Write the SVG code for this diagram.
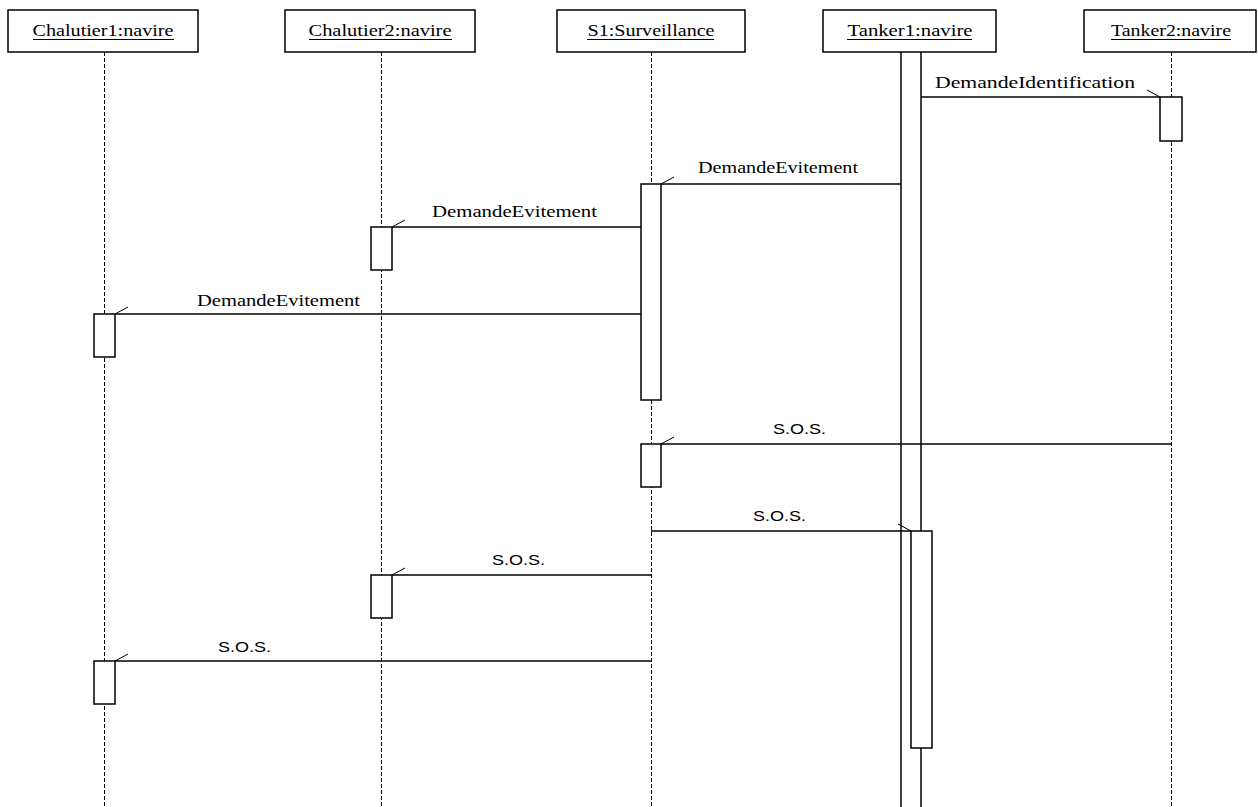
<svg xmlns="http://www.w3.org/2000/svg" width="1258" height="807" viewBox="0 0 1258 807">
<style>
.hdr{fill:#fff;stroke:#000;stroke-width:1.5}
.hl{font-family:"Liberation Serif","Times New Roman",serif;font-size:16px;fill:#000;text-anchor:middle}
.ul{stroke:#000;stroke-width:1}
.life{stroke:#000;stroke-width:1;stroke-dasharray:4,2;fill:none}
.solid{stroke:#000;stroke-width:1.5;fill:none}
.act{fill:#fff;stroke:#000;stroke-width:1.5}
.msg{stroke:#000;stroke-width:1.5;fill:none}
.barb{stroke:#000;stroke-width:1;fill:none}
.ml{font-family:"Liberation Serif","Times New Roman",serif;font-size:16px;fill:#000}
.sl{font-family:"Liberation Sans",Arial,sans-serif;font-size:15px;fill:#000}
</style>
<rect width="1258" height="807" fill="#fff"/>

<g id="lifelines">
<line class="life" x1="104.5" y1="52" x2="104.5" y2="807"/>
<line class="life" x1="381.5" y1="52" x2="381.5" y2="807"/>
<line class="life" x1="651.5" y1="52" x2="651.5" y2="807"/>
<line class="life" x1="1171.5" y1="52" x2="1171.5" y2="807"/>
<line class="solid" x1="901" y1="52" x2="901" y2="807"/>
<line class="solid" x1="921" y1="52" x2="921" y2="807"/>
</g>

<g id="connectors">
<line class="msg" x1="921" y1="97" x2="1160" y2="97"/>
<line class="barb" x1="1160" y1="97" x2="1147" y2="90"/>
<text class="ml" x="935" y="88" textLength="200" lengthAdjust="spacingAndGlyphs">DemandeIdentification</text>

<line class="msg" x1="901" y1="184" x2="661" y2="184"/>
<line class="barb" x1="661" y1="184" x2="674" y2="177"/>
<text class="ml" x="698" y="173" textLength="160" lengthAdjust="spacingAndGlyphs">DemandeEvitement</text>

<line class="msg" x1="641" y1="227" x2="392" y2="227"/>
<line class="barb" x1="392" y1="227" x2="405" y2="220"/>
<text class="ml" x="432" y="217" textLength="165" lengthAdjust="spacingAndGlyphs">DemandeEvitement</text>

<line class="msg" x1="641" y1="314" x2="115" y2="314"/>
<line class="barb" x1="115" y1="314" x2="128" y2="307"/>
<text class="ml" x="197" y="306" textLength="163" lengthAdjust="spacingAndGlyphs">DemandeEvitement</text>

<line class="msg" x1="1171" y1="444" x2="661" y2="444"/>
<line class="barb" x1="661" y1="444" x2="674" y2="437"/>
<text class="sl" x="773" y="434" textLength="53" lengthAdjust="spacingAndGlyphs">S.O.S.</text>

<line class="msg" x1="651" y1="531" x2="911" y2="531"/>
<line class="barb" x1="911" y1="531" x2="898" y2="524"/>
<text class="sl" x="753" y="521" textLength="53" lengthAdjust="spacingAndGlyphs">S.O.S.</text>

<line class="msg" x1="651" y1="575" x2="392" y2="575"/>
<line class="barb" x1="392" y1="575" x2="405" y2="568"/>
<text class="sl" x="492" y="565" textLength="53" lengthAdjust="spacingAndGlyphs">S.O.S.</text>

<line class="msg" x1="651" y1="661" x2="115" y2="661"/>
<line class="barb" x1="115" y1="661" x2="128" y2="654"/>
<text class="sl" x="218" y="652" textLength="53" lengthAdjust="spacingAndGlyphs">S.O.S.</text>
</g>

<g id="activations">
<rect class="act" x="1160" y="97" width="22" height="44"/>
<rect class="act" x="641" y="184" width="20" height="216"/>
<rect class="act" x="371" y="227" width="21" height="43"/>
<rect class="act" x="94" y="314" width="21" height="43"/>
<rect class="act" x="641" y="444" width="20" height="43"/>
<rect class="act" x="911" y="531" width="21" height="217"/>
<rect class="act" x="371" y="575" width="21" height="43"/>
<rect class="act" x="94" y="661" width="21" height="43"/>
</g>

<g id="chalutier1">
<rect class="hdr" x="8" y="10" width="190" height="42"/>
<text class="hl" x="103" y="36" textLength="141" lengthAdjust="spacingAndGlyphs">Chalutier1:navire</text>
<line class="ul" x1="33" y1="39.5" x2="174" y2="39.5"/>
</g>
<g id="chalutier2">
<rect class="hdr" x="285" y="10" width="190" height="42"/>
<text class="hl" x="380" y="36" textLength="143" lengthAdjust="spacingAndGlyphs">Chalutier2:navire</text>
<line class="ul" x1="309" y1="39.5" x2="452" y2="39.5"/>
</g>
<g id="s1">
<rect class="hdr" x="557" y="10" width="188" height="42"/>
<text class="hl" x="651" y="36" textLength="127" lengthAdjust="spacingAndGlyphs">S1:Surveillance</text>
<line class="ul" x1="587" y1="39.5" x2="714" y2="39.5"/>
</g>
<g id="tanker1">
<rect class="hdr" x="823" y="10" width="173" height="42"/>
<text class="hl" x="910" y="36" textLength="125" lengthAdjust="spacingAndGlyphs">Tanker1:navire</text>
<line class="ul" x1="847" y1="39.5" x2="972" y2="39.5"/>
</g>
<g id="tanker2">
<rect class="hdr" x="1084" y="10" width="172" height="42"/>
<text class="hl" x="1171" y="36" textLength="120" lengthAdjust="spacingAndGlyphs">Tanker2:navire</text>
<line class="ul" x1="1111" y1="39.5" x2="1231" y2="39.5"/>
</g>
</svg>
